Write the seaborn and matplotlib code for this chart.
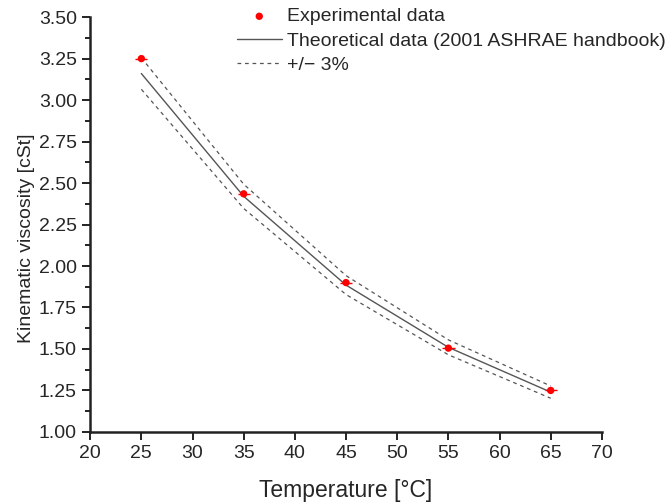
"""Kinematic viscosity vs temperature: measured points against handbook values"""

import matplotlib

matplotlib.use("Agg")
import matplotlib.pyplot as plt
import seaborn as sns
from matplotlib.ticker import MultipleLocator

# measured
temp_exp = [25, 35, 45, 55, 65]
visc_exp = [3.25, 2.435, 1.90, 1.505, 1.25]
temp_err = [0.6, 0.6, 0.6, 0.6, 0.6]

# 2001 ASHRAE handbook values and the +/- 3% band around them
temp_theo = [25, 35, 45, 55, 65]
visc_theo = [3.16, 2.42, 1.885, 1.51, 1.24]
visc_upper = [3.255, 2.493, 1.942, 1.555, 1.277]
visc_lower = [3.065, 2.347, 1.828, 1.465, 1.203]

sns.set_style("ticks")
plt.rcParams["font.family"] = ["Liberation Sans", "DejaVu Sans"]

fig = plt.figure(figsize=(6.68, 5.04), dpi=100)
ax = fig.add_axes([0.135, 0.143, 0.766, 0.823])

ax.errorbar(temp_exp, visc_exp, xerr=temp_err, fmt="none", ecolor="red", elinewidth=1.0, capsize=0, zorder=4)
sns.scatterplot(
    x=temp_exp, y=visc_exp, ax=ax, color="red", s=28, edgecolor="none", zorder=5, label="Experimental data"
)
sns.lineplot(
    x=temp_theo,
    y=visc_theo,
    ax=ax,
    color="#555555",
    linewidth=1.0,
    label="Theoretical data (2001 ASHRAE handbook)",
)
sns.lineplot(x=temp_theo, y=visc_upper, ax=ax, color="#555555", linewidth=0.9, linestyle=(0, (3, 3)), label="+/\u2212 3%")
sns.lineplot(x=temp_theo, y=visc_lower, ax=ax, color="#555555", linewidth=0.9, linestyle=(0, (3, 3)))

ax.set_xlim(20, 70)
ax.set_ylim(1.0, 3.5)
ax.xaxis.set_major_locator(MultipleLocator(5))
ax.yaxis.set_major_locator(MultipleLocator(0.25))
ax.yaxis.set_minor_locator(MultipleLocator(0.125))
ax.yaxis.set_major_formatter("{x:.2f}")
ax.tick_params(axis="both", which="major", direction="out", length=6, width=1.4, labelsize=14, color="#222222")
ax.tick_params(axis="y", which="minor", direction="out", length=3.5, width=1.4, color="#222222")
for side in ("left", "bottom"):
    ax.spines[side].set_linewidth(1.8)
    ax.spines[side].set_color("#222222")
sns.despine(ax=ax)

ax.set_xlabel("Temperature [\u00b0C]", fontsize=16.5, labelpad=12)
ax.set_ylabel("Kinematic viscosity [cSt]", fontsize=14)
# the original label sits a little below the axis middle
ax.yaxis.set_label_coords(-0.108, 0.467)

ax.legend(
    loc="upper left",
    bbox_to_anchor=(0.343, 1.0),
    bbox_transform=fig.transFigure,
    frameon=False,
    fontsize=14,
    handlelength=2.3,
    handletextpad=0.3,
    labelspacing=0.35,
    borderaxespad=0,
)

fig.savefig("out.png", dpi=100)
